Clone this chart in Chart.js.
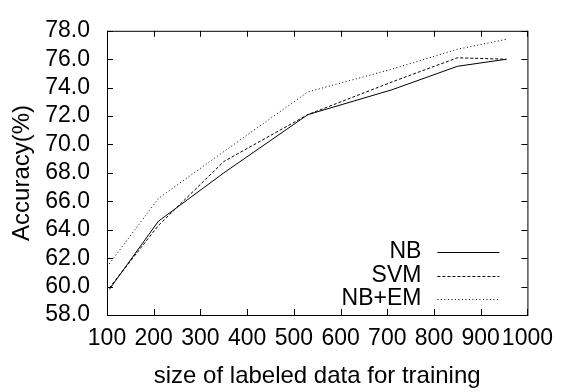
<!DOCTYPE html>
<html>
<head>
    <title>Accuracy vs labeled data size</title>
    <script src="https://cdn.jsdelivr.net/npm/chart.js"></script>
    <style>
        body { margin: 0; background: #fff; }
        #wrap { width: 563px; height: 392px; }
    </style>
</head>
<body>
    <div id="wrap">
        <canvas id="accChart" width="563" height="392"></canvas>
    </div>

<script>
// data
const trainSizes = [105, 210, 350, 530, 710, 850, 955];
const nbAcc   = [59.8, 64.6, 68.0, 72.1, 73.85, 75.5, 76.0];
const svmAcc  = [59.9, 64.3, 68.8, 72.1, 74.4, 76.1, 76.0];
const nbemAcc = [61.6, 66.2, 69.5, 73.7, 75.3, 76.7, 77.4];
const seriesNames = ['NB', 'SVM', 'NB+EM'];

const xMin = 100, xMax = 1000, xStep = 100;
const yMin = 58, yMax = 78, yStep = 2;

const FONT = 'Liberation Sans, Arial, sans-serif';

function toPoints(vals) {
    return vals.map((v, i) => ({ x: trainSizes[i], y: v }));
}

// gnuplot style frame with inward ticks on all 4 sides + legend in the lower right
const framePlugin = {
    id: 'frame',
    afterDatasetsDraw(chart) {
        const ctx = chart.ctx;
        const a = chart.chartArea;
        const xs = chart.scales.x, ys = chart.scales.y;
        const tl = 6;
        ctx.save();
        ctx.strokeStyle = '#000';
        ctx.lineWidth = 1;
        ctx.setLineDash([]);
        ctx.strokeRect(a.left + 0.5, a.top + 0.5, a.right - a.left, a.bottom - a.top);
        ctx.beginPath();
        xs.ticks.forEach(t => {
            const px = Math.round(xs.getPixelForValue(t.value)) + 0.5;
            ctx.moveTo(px, a.bottom); ctx.lineTo(px, a.bottom - tl);
            ctx.moveTo(px, a.top); ctx.lineTo(px, a.top + tl);
        });
        ys.ticks.forEach(t => {
            const py = Math.round(ys.getPixelForValue(t.value)) + 0.5;
            ctx.moveTo(a.left, py); ctx.lineTo(a.left + tl, py);
            ctx.moveTo(a.right, py); ctx.lineTo(a.right - tl, py);
        });
        ctx.stroke();

        // legend
        const lineEnd = a.right - 28;
        const lineStart = lineEnd - 62;
        const textRight = lineStart - 16;
        const rowH = 23.5;
        const lastRow = a.bottom - 16;
        ctx.font = '23px ' + FONT;
        ctx.textAlign = 'right';
        ctx.textBaseline = 'middle';
        ctx.fillStyle = '#000';
        chart.data.datasets.forEach((ds, i) => {
            const y = lastRow - (chart.data.datasets.length - 1 - i) * rowH;
            ctx.fillText(ds.label, textRight, y);
            ctx.beginPath();
            ctx.strokeStyle = ds.borderColor;
            ctx.lineWidth = ds.borderWidth;
            ctx.setLineDash(ds.borderDash || []);
            ctx.moveTo(lineStart, Math.round(y) + 0.5);
            ctx.lineTo(lineEnd, Math.round(y) + 0.5);
            ctx.stroke();
        });
        ctx.restore();
    }
};

new Chart(document.getElementById('accChart').getContext('2d'), {
    type: 'line',
    data: {
        datasets: [{
            label: seriesNames[0],
            data: toPoints(nbAcc),
            borderColor: '#000',
            borderWidth: 1,
            pointRadius: 0,
            fill: false
        }, {
            label: seriesNames[1],
            data: toPoints(svmAcc),
            borderColor: '#000',
            borderWidth: 1,
            borderDash: [3, 2],
            pointRadius: 0,
            fill: false
        }, {
            label: seriesNames[2],
            data: toPoints(nbemAcc),
            borderColor: '#000',
            borderWidth: 1,
            borderDash: [1, 2.5],
            pointRadius: 0,
            fill: false
        }]
    },
    options: {
        responsive: false,
        animation: false,
        layout: { padding: { left: 0, right: 30, top: 14, bottom: 0 } },
        plugins: {
            legend: { display: false },
            tooltip: { enabled: false }
        },
        scales: {
            x: {
                type: 'linear',
                min: xMin,
                max: xMax,
                grid: { display: false, drawTicks: false },
                border: { display: false },
                ticks: {
                    stepSize: xStep,
                    padding: 10,
                    maxRotation: 0,
                    autoSkip: false,
                    color: '#000',
                    font: { family: FONT, size: 23 },
                    callback: v => String(v)
                },
                title: {
                    display: true,
                    text: 'size of labeled data for training',
                    color: '#000',
                    font: { family: FONT, size: 24 },
                    padding: { top: 0, bottom: 1 }
                },
                afterFit(scale) { scale.height = 77; }
            },
            y: {
                min: yMin,
                max: yMax,
                grid: { display: false, drawTicks: false },
                border: { display: false },
                ticks: {
                    stepSize: yStep,
                    padding: 17,
                    autoSkip: false,
                    color: '#000',
                    font: { family: FONT, size: 23 },
                    callback: v => v.toFixed(1)
                },
                title: {
                    display: true,
                    text: 'Accuracy(%)',
                    color: '#000',
                    font: { family: FONT, size: 24 },
                    padding: { top: 8, bottom: 0 }
                },
                afterFit(scale) { scale.width = 107; }
            }
        }
    },
    plugins: [framePlugin]
});
</script>
</body>
</html>
